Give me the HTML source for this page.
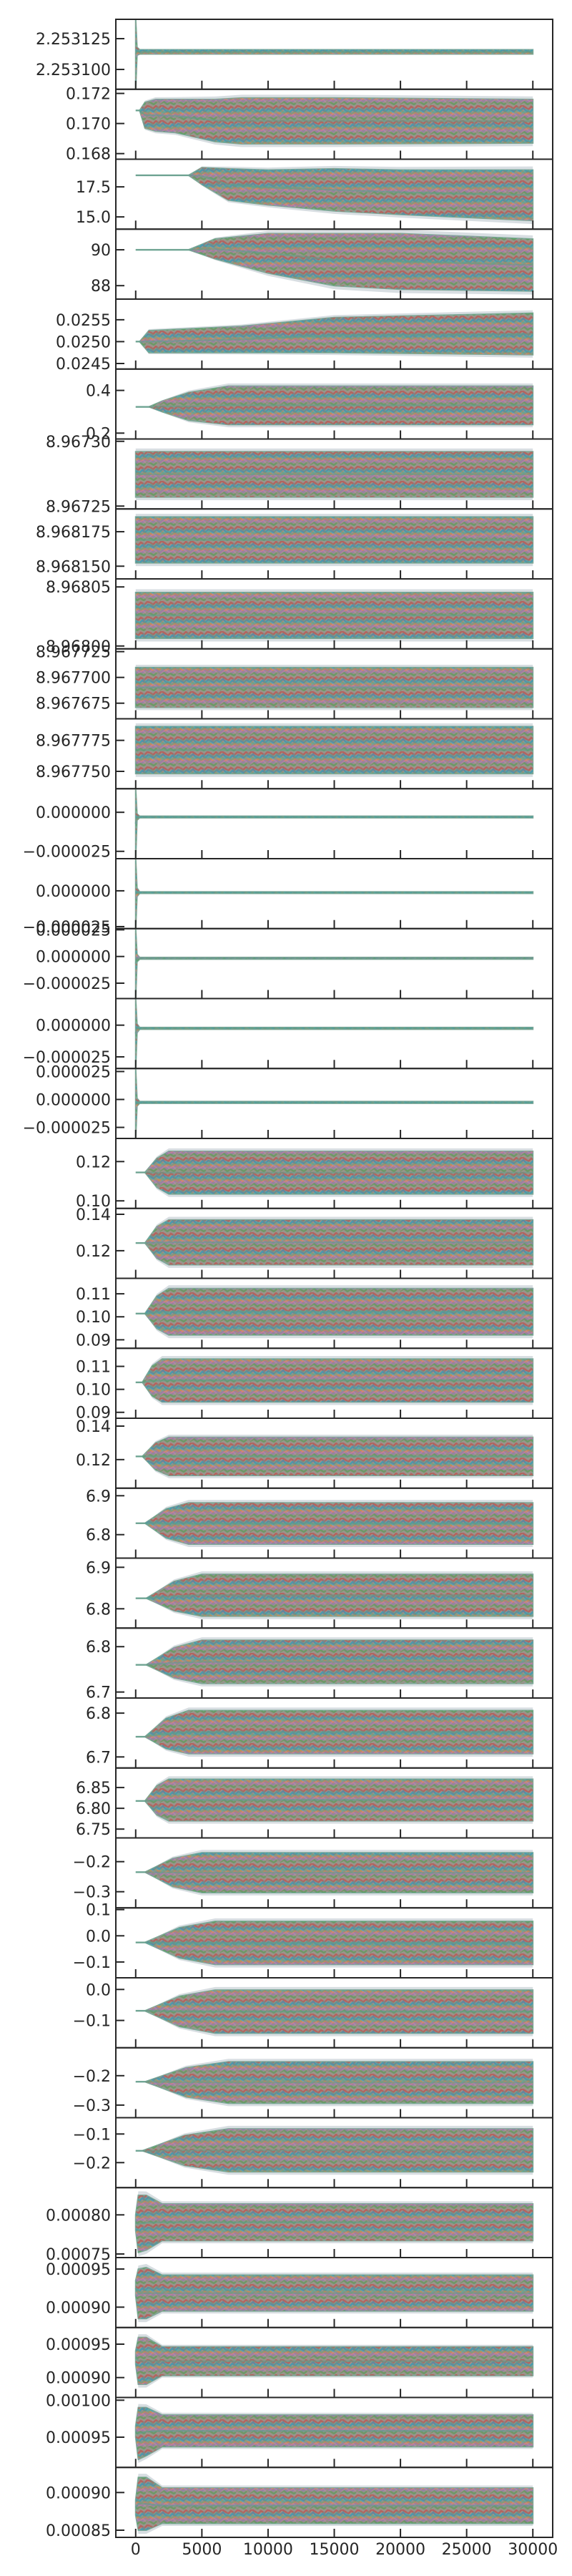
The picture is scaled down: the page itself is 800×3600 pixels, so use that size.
<!DOCTYPE html>
<html><head><meta charset="utf-8"><style>
html,body{margin:0;padding:0;background:#fff}
svg{display:block}
text{font-family:"DejaVu Sans","Liberation Sans",sans-serif;font-size:22px;fill:#262626}
</style></head><body>
<svg id="chart" width="800" height="3600" viewBox="0 0 800 3600" xmlns="http://www.w3.org/2000/svg">
<defs>
<pattern id="chains" patternUnits="userSpaceOnUse" width="42" height="21">
<polyline points="0,2 4,5 8,1 12,4 16,0 21,3 25,6 29,2 34,5 38,1 42,2" fill="none" stroke="#d62728" stroke-width="2.5" opacity="0.45"/>
<polyline points="0,6 5,9 9,5 13,8 18,4 22,8 27,10 31,6 35,9 39,5 42,6" fill="none" stroke="#1f77b4" stroke-width="2.5" opacity="0.45"/>
<polyline points="0,10 3,13 8,9 12,12 17,9 21,13 26,10 30,14 34,10 38,13 42,10" fill="none" stroke="#ff7f0e" stroke-width="2.5" opacity="0.4"/>
<polyline points="0,13 4,16 9,12 14,16 18,13 23,17 27,13 31,16 36,12 40,15 42,13" fill="none" stroke="#9467bd" stroke-width="2.5" opacity="0.4"/>
<polyline points="0,17 5,20 10,16 14,19 19,16 24,20 28,17 33,20 37,17 42,17" fill="none" stroke="#2ca02c" stroke-width="2.5" opacity="0.4"/>
<polyline points="0,4 6,7 11,3 15,7 20,11 25,8 30,12 35,8 40,11 42,4" fill="none" stroke="#5f9e8a" stroke-width="2.5" opacity="0.5"/>
<polyline points="0,15 4,11 9,15 13,19 18,15 22,12 27,16 32,13 37,18 42,15" fill="none" stroke="#e377c2" stroke-width="2" opacity="0.35"/>
<polyline points="0,8 6,11 12,7 17,11 23,6 28,9 33,4 38,8 42,8" fill="none" stroke="#17becf" stroke-width="2" opacity="0.35"/>
</pattern>
</defs>
</svg>
<script>
const xTicks=[0,5000,10000,15000,20000,25000,30000];
const xTickLabels=["0","5000","10000","15000","20000","25000","30000"];
const xDomain=[-1500,31500];
const panels=[
{ticks:[2.253125,2.2531],labels:["2.253125","2.253100"],ylim:[2.2530839,2.2531407],steps:[0,100,300,30000],lo:[2.2530839,2.2531115,2.2531125,2.2531125],hi:[2.2531407,2.253118,2.253116,2.253116]},
{ticks:[0.172,0.170,0.168],labels:["0.172","0.170","0.168"],ylim:[0.167627,0.172276],steps:[0,300,700,1500,3000,6000,8000,15000,30000],lo:[0.17087,0.17087,0.1697,0.1695,0.1694,0.1688,0.16865,0.16865,0.1687],hi:[0.17087,0.17087,0.1714,0.1716,0.1716,0.1716,0.1717,0.1717,0.1716]},
{ticks:[17.5,15.0],labels:["17.5","15.0"],ylim:[13.98,19.80],steps:[0,4000,5000,7000,10000,15000,20000,30000],lo:[18.46,18.46,17.7,16.4,16.0,15.5,15.2,14.7],hi:[18.46,18.46,19.1,19.0,18.9,19.0,18.9,18.9]},
{ticks:[90,88],labels:["90","88"],ylim:[87.25,91.15],steps:[0,4000,6000,10000,15000,20000,30000],lo:[90,90,89.5,88.7,88.0,87.8,87.7],hi:[90,90,90.6,90.9,90.9,90.9,90.6]},
{ticks:[0.0255,0.025,0.0245],labels:["0.0255","0.0250","0.0245"],ylim:[0.024373,0.025972],steps:[0,300,1000,8000,15000,30000],lo:[0.025,0.025,0.02475,0.02475,0.02475,0.0247],hi:[0.025,0.025,0.02525,0.02535,0.02555,0.02565]},
{ticks:[0.4,0.2],labels:["0.4","0.2"],ylim:[0.1725,0.5],steps:[0,1000,2000,4000,7000,30000],lo:[0.323,0.323,0.30,0.26,0.24,0.24],hi:[0.323,0.323,0.35,0.39,0.42,0.42]},
{ticks:[8.9673,8.96725],labels:["8.96730","8.96725"],ylim:[8.9672478,8.9673018],steps:[0,30000],lo:[8.967257,8.967257],hi:[8.967292,8.967292]},
{ticks:[8.968175,8.96815],labels:["8.968175","8.968150"],ylim:[8.9681408,8.9681915],steps:[0,30000],lo:[8.9681524,8.9681524],hi:[8.9681857,8.9681857]},
{ticks:[8.96805,8.968],labels:["8.96805","8.96800"],ylim:[8.9679976,8.9680568],steps:[0,30000],lo:[8.9680065,8.9680065],hi:[8.9680453,8.9680453]},
{ticks:[8.967725,8.9677,8.967675],labels:["8.967725","8.967700","8.967675"],ylim:[8.9676599,8.9677277],steps:[0,30000],lo:[8.967671,8.967671],hi:[8.9677096,8.9677096]},
{ticks:[8.967775,8.96775],labels:["8.967775","8.967750"],ylim:[8.967736,8.9677924],steps:[0,30000],lo:[8.9677482,8.9677482],hi:[8.9677861,8.9677861]},
{ticks:[0,-0.000025],labels:["0.000000","\u22120.000025"],ylim:[-0.0000297,0.0000151],steps:[0,100,300,30000],lo:[-0.0000297,-0.000005,-0.0000035,-0.0000035],hi:[0.0000151,-0.000001,-0.0000025,-0.0000025]},
{ticks:[0,-0.000025],labels:["0.000000","\u22120.000025"],ylim:[-0.0000264,0.00002245],steps:[0,100,300,30000],lo:[-0.0000264,-0.000004,-0.0000018,-0.0000018],hi:[0.00002245,0.000002,-0.0000007,-0.0000007]},
{ticks:[0.000025,0,-0.000025],labels:["0.000025","0.000000","\u22120.000025"],ylim:[-0.0000394,0.0000261],steps:[0,100,300,30000],lo:[-0.0000394,-0.000005,-0.0000025,-0.0000025],hi:[0.0000261,0.000002,-0.0000009,-0.0000009]},
{ticks:[0,-0.000025],labels:["0.000000","\u22120.000025"],ylim:[-0.0000342,0.000021],steps:[0,100,300,30000],lo:[-0.0000342,-0.000006,-0.0000032,-0.0000032],hi:[0.000021,0.000001,-0.0000018,-0.0000018]},
{ticks:[0.000025,0,-0.000025],labels:["0.000025","0.000000","\u22120.000025"],ylim:[-0.0000349,0.0000277],steps:[0,100,300,30000],lo:[-0.0000349,-0.000006,-0.0000034,-0.0000034],hi:[0.0000277,0.000001,-0.0000018,-0.0000018]},
{ticks:[0.12,0.10],labels:["0.12","0.10"],ylim:[0.09616,0.13177],steps:[0,700,1600,2500,30000],lo:[0.11446,0.11446,0.1069,0.1035,0.1035],hi:[0.11446,0.11446,0.1216,0.1252,0.1252]},
{ticks:[0.14,0.12],labels:["0.14","0.12"],ylim:[0.10483,0.14324],steps:[0,700,1600,2500,30000],lo:[0.12424,0.12424,0.1159,0.1123,0.1123],hi:[0.12424,0.12424,0.1332,0.1369,0.1369]},
{ticks:[0.11,0.10,0.09],labels:["0.11","0.10","0.09"],ylim:[0.08631,0.11672],steps:[0,700,1600,2500,30000],lo:[0.1014,0.1014,0.0949,0.0921,0.0921],hi:[0.1014,0.1014,0.109,0.1123,0.1123]},
{ticks:[0.11,0.10,0.09],labels:["0.11","0.10","0.09"],ylim:[0.08743,0.11787],steps:[0,500,1250,2000,30000],lo:[0.10305,0.10305,0.0971,0.0945,0.0945],hi:[0.10305,0.10305,0.1102,0.1132,0.1132]},
{ticks:[0.14,0.12],labels:["0.14","0.12"],ylim:[0.10293,0.1447],steps:[0,500,1500,2500,30000],lo:[0.1219,0.1219,0.1139,0.1105,0.1105],hi:[0.1219,0.1219,0.1299,0.1333,0.1333]},
{ticks:[6.9,6.8],labels:["6.9","6.8"],ylim:[6.7397,6.9194],steps:[0,700,2300,4000,30000],lo:[6.8294,6.8294,6.7917,6.7756,6.7756],hi:[6.8294,6.8294,6.8661,6.8818,6.8818]},
{ticks:[6.9,6.8],labels:["6.9","6.8"],ylim:[6.7535,6.9221],steps:[0,800,2900,5000,30000],lo:[6.8254,6.8254,6.7952,6.7822,6.7822],hi:[6.8254,6.8254,6.8658,6.8831,6.8831]},
{ticks:[6.8,6.7],labels:["6.8","6.7"],ylim:[6.6868,6.841],steps:[0,800,2900,5000,30000],lo:[6.7599,6.7599,6.7313,6.719,6.719],hi:[6.7599,6.7599,6.7978,6.8141,6.8141]},
{ticks:[6.8,6.7],labels:["6.8","6.7"],ylim:[6.6748,6.8345],steps:[0,700,2300,4000,30000],lo:[6.7461,6.7461,6.719,6.7074,6.7074],hi:[6.7461,6.7461,6.788,6.8059,6.8059]},
{ticks:[6.85,6.80,6.75],labels:["6.85","6.80","6.75"],ylim:[6.7288,6.8971],steps:[0,700,1600,2500,30000],lo:[6.8176,6.8176,6.7843,6.77,6.77],hi:[6.8176,6.8176,6.8543,6.87,6.87]},
{ticks:[-0.2,-0.3],labels:["\u22120.2","\u22120.3"],ylim:[-0.3537,-0.121],steps:[0,700,2800,5000,30000],lo:[-0.235,-0.235,-0.2826,-0.303,-0.303],hi:[-0.235,-0.235,-0.1897,-0.1703,-0.1703]},
{ticks:[0.1,0.0,-0.1],labels:["0.1","0.0","\u22120.1"],ylim:[-0.1604,0.1067],steps:[0,700,3300,6000,30000],lo:[-0.0254,-0.0254,-0.0843,-0.1096,-0.1096],hi:[-0.0254,-0.0254,0.0309,0.055,0.055]},
{ticks:[0.0,-0.1],labels:["0.0","\u22120.1"],ylim:[-0.1881,0.0376],steps:[0,700,3300,6000,30000],lo:[-0.069,-0.069,-0.1195,-0.1411,-0.1411],hi:[-0.069,-0.069,-0.0221,-0.002,-0.002]},
{ticks:[-0.2,-0.3],labels:["\u22120.2","\u22120.3"],ylim:[-0.3428,-0.105],steps:[0,700,3800,7000,30000],lo:[-0.2207,-0.2207,-0.2719,-0.2938,-0.2938],hi:[-0.2207,-0.2207,-0.1731,-0.1527,-0.1527]},
{ticks:[-0.1,-0.2],labels:["\u22120.1","\u22120.2"],ylim:[-0.2874,-0.043],steps:[0,500,3700,7000,30000],lo:[-0.1585,-0.1585,-0.21,-0.232,-0.232],hi:[-0.1585,-0.1585,-0.105,-0.082,-0.082]},
{ticks:[0.0008,0.00075],labels:["0.00080","0.00075"],ylim:[0.0007454,0.0008348],steps:[0,200,800,2000,30000],lo:[0.00078,0.000752,0.000755,0.000767,0.000767],hi:[0.0008,0.000825,0.000825,0.000814,0.000814]},
{ticks:[0.00095,0.0009],labels:["0.00095","0.00090"],ylim:[0.0008733,0.000965],steps:[0,200,800,2000,30000],lo:[0.000915,0.000885,0.000885,0.000895,0.000895],hi:[0.000935,0.00095,0.000952,0.000942,0.000942]},
{ticks:[0.00095,0.0009],labels:["0.00095","0.00090"],ylim:[0.0008702,0.0009749],steps:[0,200,800,2000,30000],lo:[0.00092,0.00089,0.00089,0.000903,0.000903],hi:[0.00094,0.00096,0.00096,0.000946,0.000946]},
{ticks:[0.001,0.00095],labels:["0.00100","0.00095"],ylim:[0.0009091,0.0010037],steps:[0,200,800,2000,30000],lo:[0.00095,0.00092,0.000925,0.000937,0.000937],hi:[0.000965,0.00099,0.00099,0.00098,0.00098]},
{ticks:[0.0009,0.00085],labels:["0.00090","0.00085"],ylim:[0.0008405,0.0009333],steps:[0,200,800,2000,30000],lo:[0.00087,0.00085,0.00085,0.000859,0.000859],hi:[0.00089,0.00092,0.00092,0.000906,0.000906]}
];
const NS="http://www.w3.org/2000/svg";
const svg=document.getElementById('chart');
const AX_L=162, AX_R=773, TOP=27, PH=97.75;
function xs(v){return AX_L+(v-xDomain[0])/(xDomain[1]-xDomain[0])*(AX_R-AX_L);}
function mk(tag,attrs,parent){const e=document.createElementNS(NS,tag);for(const k in attrs)e.setAttribute(k,attrs[k]);(parent||svg).appendChild(e);return e;}
panels.forEach((p,i)=>{
  const top=TOP+i*PH, bot=top+PH;
  const ys=v=>bot-(v-p.ylim[0])/(p.ylim[1]-p.ylim[0])*PH;
  const g=mk('g',{});
  
  
  const cp=mk('clipPath',{id:'clip'+i},g);
  mk('rect',{x:AX_L,y:top,width:AX_R-AX_L,height:PH},cp);
  const plot=mk('g',{'clip-path':'url(#clip'+i+')'},g);
  
  
  const up=[],dn=[],fu=[],fd=[],mid=[];
  p.steps.forEach((s,j)=>{
    const x=xs(s), w=p.hi[j]-p.lo[j], f=w*0.07;
    up.push(x+','+ys(p.hi[j]));dn.unshift(x+','+ys(p.lo[j]));
    fu.push(x+','+ys(p.hi[j]+f));fd.unshift(x+','+ys(p.lo[j]-f));
    mid.push(x+','+ys((p.hi[j]+p.lo[j])/2));
  });
  const fr=mk('polygon',{points:fu.concat(fd).join(' '),fill:'#a9b6bf',opacity:'0.45'},plot);
  
  
  const bd=mk('polygon',{points:up.concat(dn).join(' '),fill:'#9a948c',stroke:'#7fa898','stroke-width':'2'},plot);
  
  
  const tx=mk('polygon',{points:up.concat(dn).join(' '),fill:'url(#chains)'},plot);
  
  
  const ml=mk('polyline',{points:mid.join(' '),fill:'none',stroke:'#5f9e8a','stroke-width':'2.5',opacity:'0.6'},plot);
  
  
  xTicks.forEach((t,k)=>{
    const tl=mk('line',{x1:xs(t),x2:xs(t),y1:bot,y2:bot-12,stroke:'#262626','stroke-width':'2'},g);
    
    
  });
  p.ticks.forEach((t,k)=>{
    const y=ys(t);
    const tl=mk('line',{x1:AX_L,x2:AX_L+12,y1:y,y2:y,stroke:'#262626','stroke-width':'2'},g);
    
    
    const lb=mk('text',{x:155,y:y+8,'text-anchor':'end'},g);
    lb.textContent=p.labels[k];
    
    
  });
  const sp=mk('rect',{x:AX_L,y:top,width:AX_R-AX_L,height:PH,fill:'none',stroke:'#262626','stroke-width':'2'},g);
  
  
});
const lastBot=TOP+panels.length*PH;
xTicks.forEach((t,k)=>{
  const lb=mk('text',{x:xs(t),y:lastBot+24,'text-anchor':'middle'});
  lb.textContent=xTickLabels[k];
  
  
});
</script>
</body></html>
